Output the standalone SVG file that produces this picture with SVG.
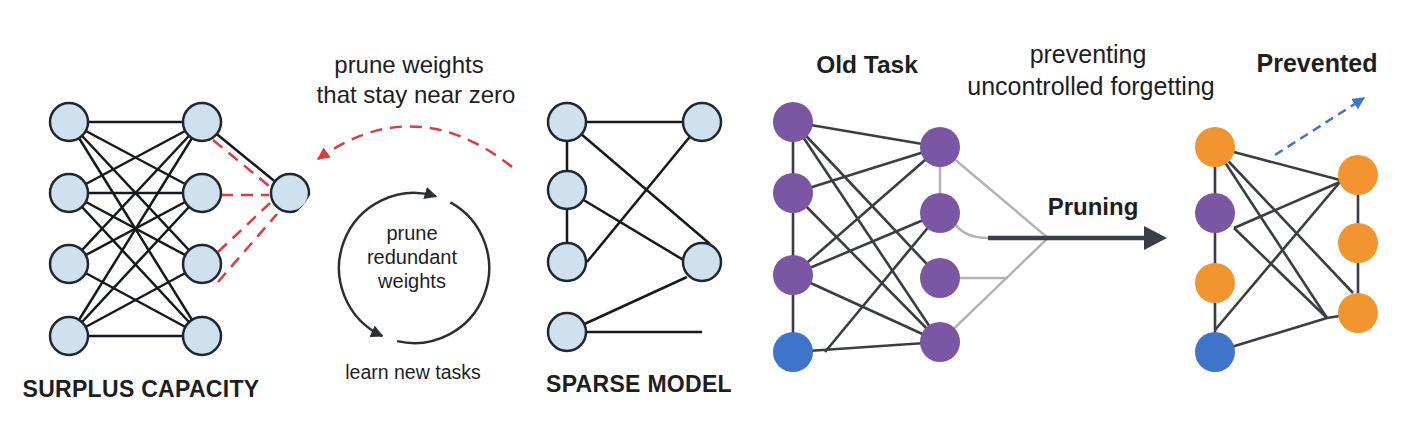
<svg xmlns="http://www.w3.org/2000/svg" width="1418" height="445" viewBox="0 0 1418 445">
<style>
.t{font-family:"Liberation Sans",Arial,sans-serif;fill:#1e1e1e}
.b{font-weight:bold}
.ln{fill:#cfe0ee;stroke:#1d2730;stroke-width:2.5}
.e{stroke:#15191d;stroke-width:2.5;fill:none}
.d{stroke:#3a3e44;stroke-width:2.6;fill:none}
.g{stroke:#b3b3b3;stroke-width:2.5;fill:none}
.red{stroke:#e0393e;stroke-width:2.5;fill:none;stroke-dasharray:12 8}
.pu{fill:#7b57a3}.bl{fill:#3f74cb}.or{fill:#f2952f}
</style>
<defs>
<marker id="ar" viewBox="0 0 10 10" refX="9" refY="5" markerWidth="5" markerHeight="5" orient="auto"><path d="M0,0 L10,5 L0,10 Z" fill="#e0393e"/></marker>
<marker id="ak" viewBox="0 0 10 10" refX="9" refY="5" markerWidth="5" markerHeight="5" orient="auto-start-reverse"><path d="M0,0 L10,5 L0,10 Z" fill="#2b2f34"/></marker>
<marker id="ab" viewBox="0 0 10 10" refX="9" refY="5" markerWidth="5" markerHeight="5" orient="auto"><path d="M0,0 L10,5 L0,10 Z" fill="#3f74cb"/></marker>
</defs>

<g id="connectors">
<g class="e">
<line x1="69" y1="122" x2="202" y2="122"/><line x1="69" y1="122" x2="202" y2="193"/><line x1="69" y1="122" x2="202" y2="264"/><line x1="69" y1="122" x2="202" y2="336"/>
<line x1="69" y1="193" x2="202" y2="122"/><line x1="69" y1="193" x2="202" y2="193"/><line x1="69" y1="193" x2="202" y2="264"/><line x1="69" y1="193" x2="202" y2="336"/>
<line x1="69" y1="264" x2="202" y2="122"/><line x1="69" y1="264" x2="202" y2="193"/><line x1="69" y1="264" x2="202" y2="336"/>
<line x1="69" y1="336" x2="202" y2="122"/><line x1="69" y1="336" x2="202" y2="193"/><line x1="69" y1="336" x2="202" y2="264"/><line x1="69" y1="336" x2="202" y2="336"/>
<line x1="202" y1="122" x2="289" y2="193"/>
</g>
<g class="red">
<line x1="213" y1="140" x2="269" y2="186"/><line x1="221" y1="195" x2="269" y2="195"/><line x1="218" y1="252" x2="270" y2="203"/><line x1="218" y1="282" x2="277" y2="214"/>
<path d="M512,167 Q415,90 318,159" marker-end="url(#ar)"/>
</g>
<path d="M382.3,336 A75,75 0 0 1 435.9,196.3" fill="none" stroke="#2b2f34" stroke-width="2.5" marker-start="url(#ak)" marker-end="url(#ak)"/>
<path d="M450.4,202.4 A75,75 0 0 1 397.1,341.1" fill="none" stroke="#2b2f34" stroke-width="2.5"/>
<g class="e">
<line x1="567" y1="122" x2="702" y2="122"/><line x1="567" y1="122" x2="567" y2="190"/><line x1="567" y1="190" x2="567" y2="262"/>
<line x1="567" y1="122" x2="710" y2="244"/><line x1="702" y1="122" x2="587" y2="262"/>
<line x1="567" y1="190" x2="700" y2="270"/><line x1="687" y1="277" x2="567" y2="332"/><line x1="567" y1="332" x2="702" y2="332"/>
</g>
<g class="d">
<line x1="793" y1="122" x2="793" y2="352"/>
<line x1="793" y1="122" x2="940" y2="147"/><line x1="793" y1="122" x2="940" y2="278"/><line x1="793" y1="122" x2="940" y2="342"/>
<line x1="793" y1="193" x2="940" y2="147"/><line x1="793" y1="193" x2="940" y2="342"/>
<line x1="793" y1="275" x2="940" y2="147"/><line x1="793" y1="275" x2="940" y2="213"/><line x1="793" y1="275" x2="940" y2="342"/>
<line x1="825" y1="352" x2="940" y2="213"/><line x1="793" y1="352" x2="940" y2="342"/>
</g>
<g class="g">
<line x1="940" y1="147" x2="940" y2="213"/>
<line x1="940" y1="147" x2="1048" y2="238"/>
<path d="M955,224 Q965,238 988,238"/>
<line x1="940" y1="278" x2="1008" y2="278"/>
<line x1="940" y1="342" x2="1048" y2="238"/>
</g>
<line x1="988" y1="238" x2="1146" y2="238" stroke="#3a3e44" stroke-width="4.5"/>
<path d="M1144,226 L1167,238 L1144,250 Z" fill="#3a3e44"/>
<g class="d">
<line x1="1215" y1="147" x2="1215" y2="352"/><line x1="1358" y1="175" x2="1358" y2="313"/>
<line x1="1215" y1="147" x2="1340" y2="180"/><line x1="1215" y1="147" x2="1353" y2="293"/><line x1="1215" y1="147" x2="1327" y2="318"/>
<line x1="1234" y1="228" x2="1340" y2="182"/><line x1="1234" y1="228" x2="1327" y2="318"/>
<line x1="1215" y1="330" x2="1340" y2="182"/><line x1="1215" y1="352" x2="1327" y2="318"/><line x1="1327" y1="318" x2="1358" y2="313"/>
</g>
<line x1="1275" y1="155" x2="1364" y2="98" stroke="#3f74cb" stroke-width="2.5" stroke-dasharray="9 6" marker-end="url(#ab)"/>
</g>

<g id="surplus">
<circle class="ln" cx="69" cy="122" r="19"/><circle class="ln" cx="69" cy="193" r="19"/><circle class="ln" cx="69" cy="264" r="19"/><circle class="ln" cx="69" cy="336" r="19"/>
<circle class="ln" cx="202" cy="122" r="19"/><circle class="ln" cx="202" cy="193" r="19"/><circle class="ln" cx="202" cy="264" r="19"/><circle class="ln" cx="202" cy="336" r="19"/>
<text class="t b" x="141" y="397" font-size="23" letter-spacing="0.3" text-anchor="middle">SURPLUS CAPACITY</text>
</g>
<g id="outer-node">
<circle class="ln" cx="290" cy="193" r="19"/>
<path d="M310,195 L312,216 L292,215 Q303,208 310,195 Z" fill="#fff"/>
</g>
<g id="labels-prune">
<text class="t" x="409" y="73" font-size="24" text-anchor="middle">prune weights</text>
<text class="t" x="416" y="103" font-size="24" text-anchor="middle">that stay near zero</text>
</g>
<g id="cycle">
<text class="t" x="412" y="240" font-size="20" text-anchor="middle">prune</text>
<text class="t" x="412" y="264" font-size="20" text-anchor="middle">redundant</text>
<text class="t" x="412" y="288" font-size="20" text-anchor="middle">weights</text>
<text class="t" x="413" y="379" font-size="19.5" text-anchor="middle">learn new tasks</text>
</g>
<g id="sparse">
<circle class="ln" cx="567" cy="122" r="19"/><circle class="ln" cx="567" cy="190" r="19"/><circle class="ln" cx="567" cy="262" r="19"/><circle class="ln" cx="567" cy="332" r="19"/>
<circle class="ln" cx="702" cy="122" r="19"/><circle class="ln" cx="702" cy="262" r="19"/>
<text class="t b" x="639" y="392" font-size="23" letter-spacing="0.3" text-anchor="middle">SPARSE MODEL</text>
</g>
<g id="old-task">
<text class="t b" x="867" y="73" font-size="24.5" text-anchor="middle">Old Task</text>
<circle class="pu" cx="793" cy="122" r="20"/><circle class="pu" cx="793" cy="193" r="20"/><circle class="pu" cx="793" cy="275" r="20"/><circle class="bl" cx="793" cy="352" r="20"/>
<circle class="pu" cx="940" cy="147" r="20"/><circle class="pu" cx="940" cy="213" r="20"/><circle class="pu" cx="940" cy="278" r="20"/><circle class="pu" cx="940" cy="342" r="20"/>
</g>
<g id="pruning-label">
<text class="t" x="1088" y="63" font-size="25" text-anchor="middle">preventing</text>
<text class="t" x="1091" y="95" font-size="25" text-anchor="middle">uncontrolled forgetting</text>
<text class="t b" x="1093" y="215" font-size="24" text-anchor="middle">Pruning</text>
</g>
<g id="prevented">
<text class="t b" x="1317" y="72" font-size="25" text-anchor="middle">Prevented</text>
<circle class="or" cx="1215" cy="147" r="20"/><circle class="pu" cx="1215" cy="213" r="20"/><circle class="or" cx="1215" cy="283" r="20"/><circle class="bl" cx="1215" cy="352" r="20"/>
<circle class="or" cx="1358" cy="175" r="20"/><circle class="or" cx="1358" cy="243" r="20"/><circle class="or" cx="1358" cy="313" r="20"/>
</g>
</svg>
